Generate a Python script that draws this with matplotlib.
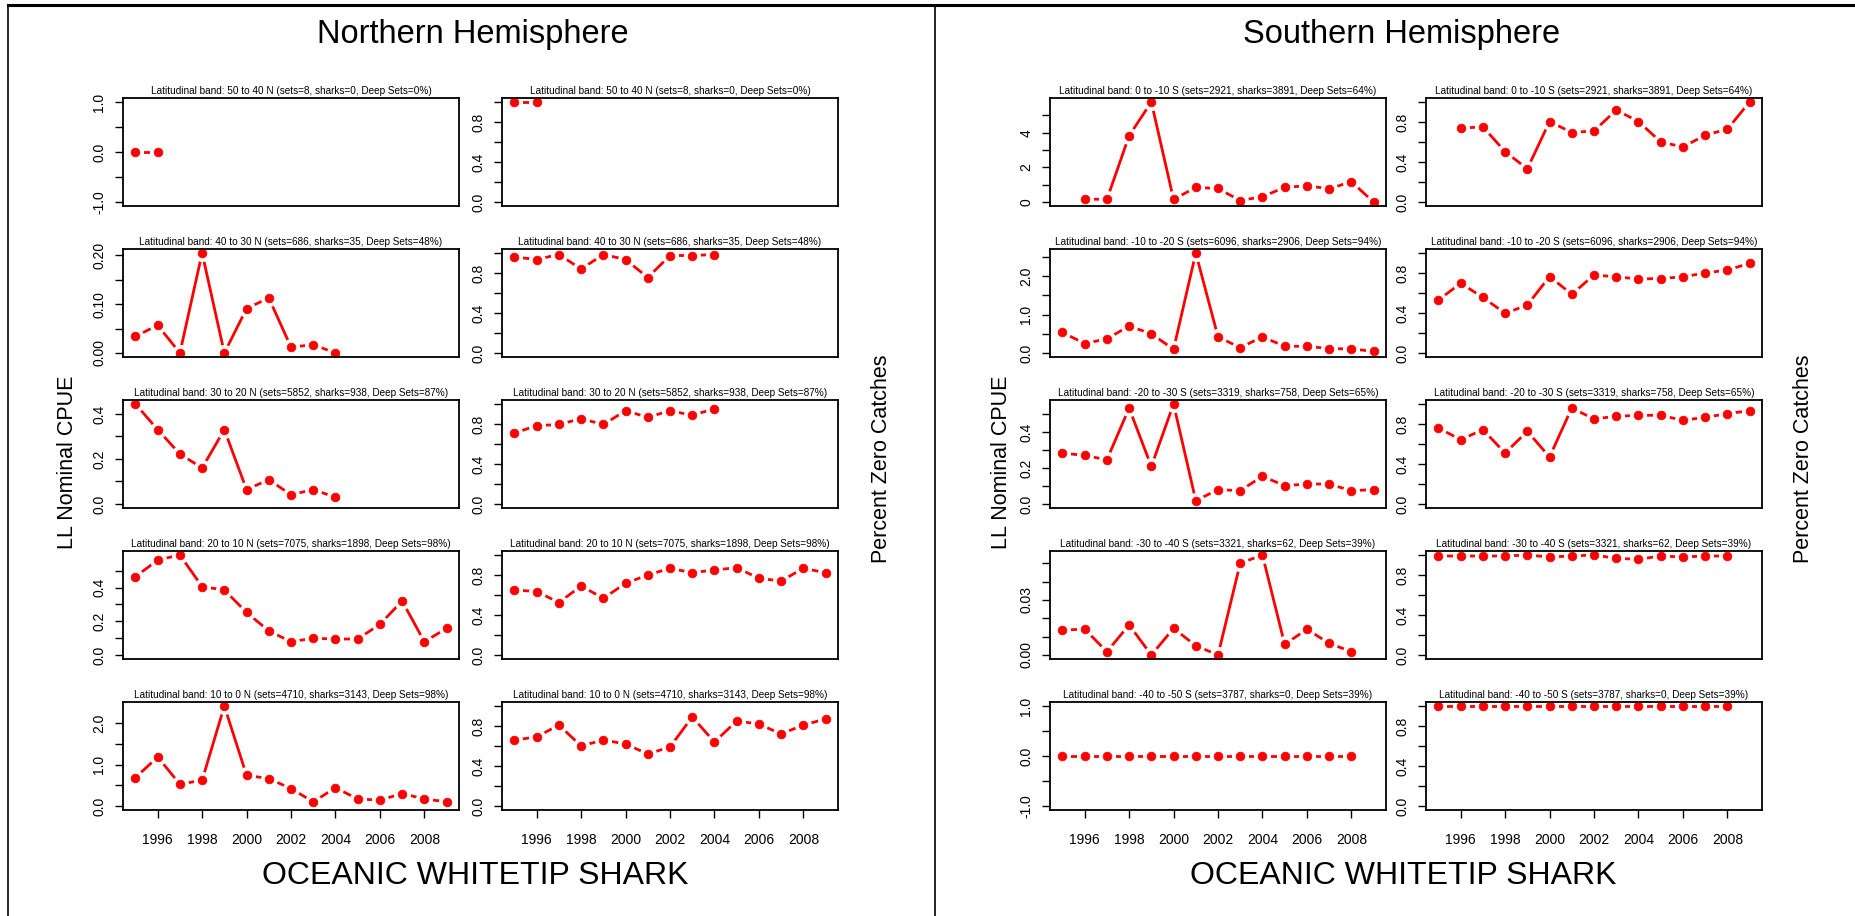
import matplotlib
matplotlib.use('Agg')
import matplotlib.pyplot as plt
from matplotlib.lines import Line2D
import numpy as np

plt.rcParams['font.family'] = ['Liberation Sans', 'DejaVu Sans']

# ---------------- data ----------------
north_titles = [
    "Latitudinal band: 50 to 40 N (sets=8, sharks=0, Deep Sets=0%)",
    "Latitudinal band: 40 to 30 N (sets=686, sharks=35, Deep Sets=48%)",
    "Latitudinal band: 30 to 20 N (sets=5852, sharks=938, Deep Sets=87%)",
    "Latitudinal band: 20 to 10 N (sets=7075, sharks=1898, Deep Sets=98%)",
    "Latitudinal band: 10 to 0 N (sets=4710, sharks=3143, Deep Sets=98%)",
]
south_titles = [
    "Latitudinal band: 0 to -10 S (sets=2921, sharks=3891, Deep Sets=64%)",
    "Latitudinal band: -10 to -20 S (sets=6096, sharks=2906, Deep Sets=94%)",
    "Latitudinal band: -20 to -30 S (sets=3319, sharks=758, Deep Sets=65%)",
    "Latitudinal band: -30 to -40 S (sets=3321, sharks=62, Deep Sets=39%)",
    "Latitudinal band: -40 to -50 S (sets=3787, sharks=0, Deep Sets=39%)",
]

# Northern hemisphere
yrs_n1 = [1995, 1996]
cpue_n1 = [0.0, 0.0]
pzero_n1 = [1.0, 1.0]

yrs_n2 = [1995, 1996, 1997, 1998, 1999, 2000, 2001, 2002, 2003, 2004]
cpue_n2 = [0.034, 0.057, 0.0, 0.205, 0.0, 0.091, 0.113, 0.012, 0.017, 0.0]
pzero_n2 = [0.96, 0.935, 0.985, 0.84, 0.985, 0.935, 0.755, 0.975, 0.975, 0.985]

yrs_n3 = [1995, 1996, 1997, 1998, 1999, 2000, 2001, 2002, 2003, 2004]
cpue_n3 = [0.444, 0.330, 0.222, 0.160, 0.330, 0.064, 0.108, 0.041, 0.064, 0.030]
pzero_n3 = [0.71, 0.783, 0.795, 0.853, 0.795, 0.933, 0.867, 0.933, 0.887, 0.953]

yrs_n4 = list(range(1995, 2010))
cpue_n4 = [0.465, 0.564, 0.594, 0.406, 0.386, 0.253, 0.143, 0.079, 0.099, 0.095,
           0.095, 0.182, 0.321, 0.079, 0.158]
pzero_n4 = [0.65, 0.635, 0.525, 0.69, 0.567, 0.717, 0.80, 0.867, 0.823, 0.85,
            0.873, 0.767, 0.74, 0.867, 0.823]

yrs_n5 = list(range(1995, 2010))
cpue_n5 = [0.685, 1.18, 0.526, 0.62, 2.41, 0.74, 0.66, 0.42, 0.10, 0.44,
           0.17, 0.14, 0.30, 0.17, 0.10]
pzero_n5 = [0.66, 0.69, 0.81, 0.60, 0.66, 0.62, 0.52, 0.59, 0.89, 0.64,
            0.85, 0.82, 0.72, 0.81, 0.87]

# Southern hemisphere
yrs_s1 = list(range(1996, 2010))
cpue_s1 = [0.17, 0.15, 3.82, 5.77, 0.15, 0.84, 0.78, 0.08, 0.31, 0.84,
           0.94, 0.76, 1.17, 0.0]
pzero_s1 = [0.738, 0.752, 0.503, 0.332, 0.805, 0.695, 0.711, 0.919, 0.805, 0.601,
            0.550, 0.668, 0.728, 1.0]

yrs_s2 = list(range(1995, 2010))
cpue_s2 = [0.535, 0.246, 0.368, 0.70, 0.50, 0.096, 2.60, 0.42, 0.14, 0.42,
           0.175, 0.175, 0.114, 0.105, 0.044]
pzero_s2 = [0.53, 0.697, 0.557, 0.396, 0.48, 0.765, 0.587, 0.78, 0.762, 0.74,
            0.745, 0.762, 0.80, 0.83, 0.896]

yrs_s3 = list(range(1995, 2010))
cpue_s3 = [0.283, 0.27, 0.246, 0.533, 0.209, 0.556, 0.0185, 0.08, 0.074, 0.154,
           0.102, 0.111, 0.111, 0.074, 0.08]
pzero_s3 = [0.76, 0.643, 0.743, 0.51, 0.727, 0.47, 0.96, 0.85, 0.877, 0.887,
            0.887, 0.837, 0.867, 0.903, 0.933]

yrs_s4 = list(range(1995, 2009))
cpue_s4 = [0.0136, 0.0141, 0.0018, 0.0164, 0.0, 0.0145, 0.0051, 0.0, 0.050, 0.0545,
           0.0058, 0.014, 0.0064, 0.0018]
pzero_s4 = [0.99, 0.99, 0.99, 0.99, 1.0, 0.98, 0.99, 1.0, 0.967, 0.957,
            0.99, 0.98, 0.99, 0.99]

yrs_s5 = list(range(1995, 2009))
cpue_s5 = [0.0] * 14
pzero_s5 = [1.0] * 14

# y-axis tick spec per CPUE panel: (tick step, label every n-th tick, decimals)
cpue_ticks_n = [(0.5, 2, 1), (0.05, 2, 2), (0.1, 2, 1), (0.1, 2, 1), (0.5, 2, 1)]
cpue_ticks_s = [(1.0, 2, 0), (0.5, 2, 1), (0.1, 2, 1), (0.01, 3, 2), (0.5, 2, 1)]

xtick_years = [1996, 1998, 2000, 2002, 2004, 2006, 2008]

# ---------------- layout ----------------
W, H = 1856, 916
fig = plt.figure(figsize=(W / 100, H / 100), dpi=100)

PW, PH = 336, 108
row_tops = [98, 249, 400, 551, 702]
TITLE_FS = 7.2
TICK_FS = 10


def add_panel(x0, top, years, vals, title, kind, spec, bottom):
    ax = fig.add_axes([x0 / W, 1 - (top + PH) / H, PW / W, PH / H])
    ax.plot(years, vals, color='red', lw=2.0, zorder=2, solid_capstyle='butt')
    ax.plot(years, vals, ls='none', marker='o', ms=6.3, mfc='white',
            mec='white', mew=6, zorder=2.2)
    ax.plot(years, vals, ls='none', marker='o', ms=6.3, mfc='red',
            mec='red', mew=0.5, zorder=2.3)
    ax.set_xlim(1994.44, 2009.56)
    if kind == 'cpue':
        vmax = max(vals)
        if vmax == 0:
            lo, hi = -1.0, 1.0
        else:
            lo, hi = 0.0, vmax
        rng = hi - lo
        ax.set_ylim(lo - 0.04 * rng, hi + 0.04 * rng)
        step, every, dec = spec
        n = int(np.floor(hi / step + 1e-9))
        m = int(np.ceil(lo / step - 1e-9))
        ticks = [k * step for k in range(m, n + 1)]
        labels = [("%.*f" % (dec, t)) if (i % every == 0) else '' for i, t in enumerate(ticks)]
    else:
        ax.set_ylim(-0.04, 1.04)
        ticks = [0.0, 0.2, 0.4, 0.6, 0.8, 1.0]
        labels = ['0.0', '', '0.4', '', '0.8', '']
    ax.set_yticks(ticks)
    ax.set_yticklabels(labels, rotation=90, va='center')
    ax.tick_params(axis='y', direction='out', length=5.5, width=1, pad=6.5,
                   labelsize=TICK_FS)
    if bottom:
        ax.set_xticks(xtick_years)
        ax.set_xticklabels([str(y) for y in xtick_years])
        ax.tick_params(axis='x', direction='out', length=5.5, width=1, pad=11,
                       labelsize=TICK_FS)
    else:
        ax.set_xticks([])
    for s in ax.spines.values():
        s.set_linewidth(1.3)
        s.set_zorder(3)
    ax.set_title(title, fontsize=TITLE_FS, pad=3)
    return ax


north_yrs = [yrs_n1, yrs_n2, yrs_n3, yrs_n4, yrs_n5]
north_cpue = [cpue_n1, cpue_n2, cpue_n3, cpue_n4, cpue_n5]
north_pz = [pzero_n1, pzero_n2, pzero_n3, pzero_n4, pzero_n5]
south_yrs = [yrs_s1, yrs_s2, yrs_s3, yrs_s4, yrs_s5]
south_cpue = [cpue_s1, cpue_s2, cpue_s3, cpue_s4, cpue_s5]
south_pz = [pzero_s1, pzero_s2, pzero_s3, pzero_s4, pzero_s5]

halves = [
    (123, 502, north_yrs, north_cpue, north_pz, north_titles, cpue_ticks_n,
     "Northern Hemisphere", 473, 475, 68, 882),
    (1050, 1426, south_yrs, south_cpue, south_pz, south_titles, cpue_ticks_s,
     "Southern Hemisphere", 1402, 1403, 1002, 1804),
]

for (c1, c2, yrs, cp, pz, titles, specs, htitle, hcx, bcx, ylx, yrx) in halves:
    for i in range(5):
        bottom = (i == 4)
        add_panel(c1, row_tops[i], yrs[i], cp[i], titles[i], 'cpue', specs[i], bottom)
        add_panel(c2, row_tops[i], yrs[i], pz[i], titles[i], 'pz', None, bottom)
    fig.text(hcx / W, 1 - 34 / H, htitle, ha='center', va='center', fontsize=23.5)
    fig.text(bcx / W, 1 - 876 / H, "OCEANIC WHITETIP SHARK", ha='center',
             va='center', fontsize=23)
    fig.text(ylx / W, 1 - 462 / H, "LL Nominal CPUE", rotation=90,
             ha='center', va='center', fontsize=15.5)
    fig.text(yrx / W, 1 - 459 / H, "Percent Zero Catches", rotation=90,
             ha='center', va='center', fontsize=15.5)

# frame lines
fig.add_artist(Line2D([8 / W, 1.0], [1 - 5 / H, 1 - 5 / H], transform=fig.transFigure,
                      color='black', lw=2.2))
fig.add_artist(Line2D([8 / W, 8 / W], [0, 1 - 5 / H], transform=fig.transFigure,
                      color='black', lw=1.2))
fig.add_artist(Line2D([935 / W, 935 / W], [0, 1 - 5 / H], transform=fig.transFigure,
                      color='black', lw=1.2))

fig.savefig('out.png', dpi=100, facecolor='white')
